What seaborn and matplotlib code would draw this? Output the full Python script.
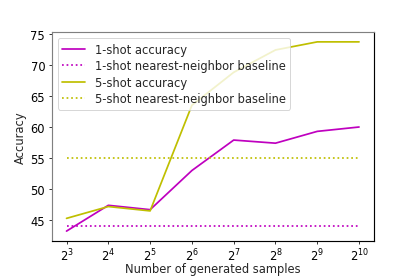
import numpy as np
import pandas as pd
import matplotlib
matplotlib.use("Agg")
import matplotlib.pyplot as plt
import seaborn as sns

exponents = [3, 4, 5, 6, 7, 8, 9, 10]
one_shot = [43.25, 47.4, 46.7, 53.0, 57.9, 57.4, 59.3, 60.0]
five_shot = [45.3, 47.2, 46.5, 63.5, 68.8, 72.4, 73.7, 73.7]
one_shot_nn = 44.05
five_shot_nn = 55.05
xtick_labels = [f"$2^{{{e}}}$" for e in exponents]

sns.set_style("ticks")
plt.rcParams['font.family'] = ['DejaVu Sans']
plt.rcParams['font.size'] = 12

samples = [2 ** e for e in exponents]
df = pd.DataFrame({"samples": samples, "one": one_shot, "five": five_shot})

fig, ax = plt.subplots(figsize=(6, 4), dpi=69.2)
sns.lineplot(data=df, x="samples", y="one", ax=ax, color="m", lw=1.8, label="1-shot accuracy")
ax.plot(samples, [one_shot_nn] * len(samples), color="m", ls=":", lw=1.8, label="1-shot nearest-neighbor baseline")
sns.lineplot(data=df, x="samples", y="five", ax=ax, color="y", lw=1.8, label="5-shot accuracy")
ax.plot(samples, [five_shot_nn] * len(samples), color="y", ls=":", lw=1.8, label="5-shot nearest-neighbor baseline")

ax.set_xscale("log", base=2)
ax.set_xticks(samples)
ax.set_xticklabels(xtick_labels)
ax.minorticks_off()
ax.set_yticks([45, 50, 55, 60, 65, 70, 75])
ax.set_xlabel("Number of generated samples", labelpad=-1.5)
ax.set_ylabel("Accuracy")
for name, s in ax.spines.items():
    s.set_visible(True)
    s.set_linewidth(1.2)
    s.set_color("#808080" if name in ("left", "top") else "black")
ax.tick_params(colors="black", length=3.5, width=0.8)
ax.legend(loc="upper left", fontsize=12, frameon=True, labelspacing=0.3)
fig.subplots_adjust(left=0.125, right=0.9, top=0.88, bottom=0.128)
fig.savefig("out.png", dpi=69.2)
